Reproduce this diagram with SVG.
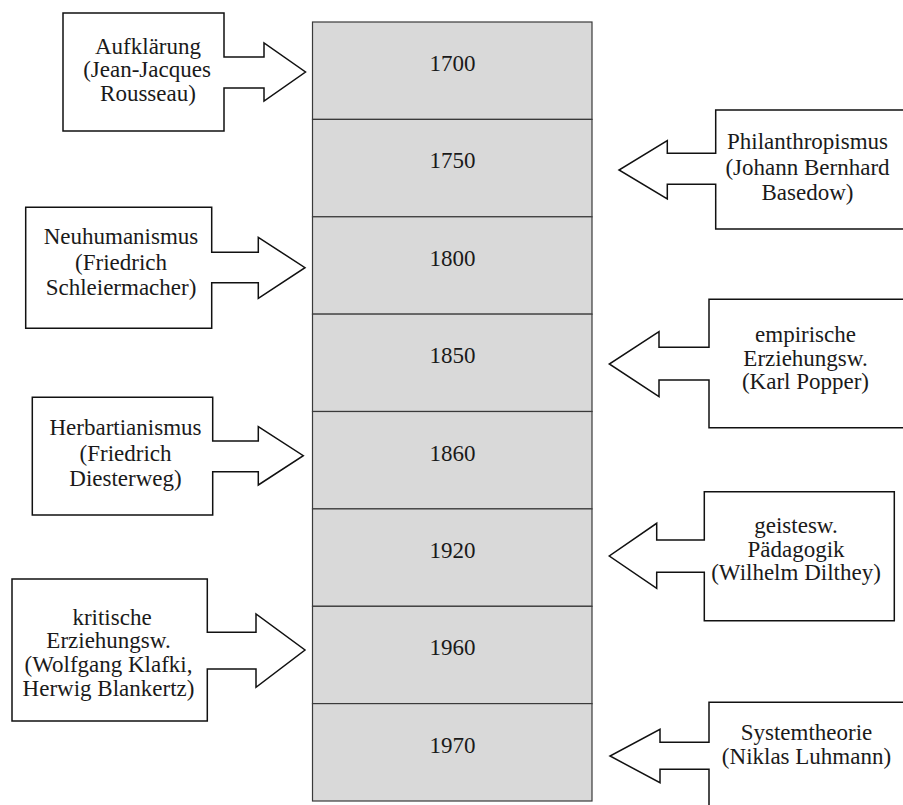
<svg xmlns="http://www.w3.org/2000/svg" width="903" height="805" viewBox="0 0 903 805">
<style>
.cell{fill:#d9d9d9;stroke:#3a3a3a;stroke-width:1.2}
.call{fill:#ffffff;stroke:#111111;stroke-width:1.5;stroke-linejoin:miter}
.t{font-family:"Liberation Serif","Times New Roman",serif;font-size:23px;fill:#1a1a1a;text-anchor:middle}
</style>
<rect width="903" height="805" fill="#ffffff"/>
<g id="timeline">
<g id="y1700"><rect class="cell" x="312.5" y="22" width="279.5" height="97.4"/><text class="t" x="452.5" y="71">1700</text></g>
<g id="y1750"><rect class="cell" x="312.5" y="119.4" width="279.5" height="97.4"/><text class="t" x="452.5" y="168.4">1750</text></g>
<g id="y1800"><rect class="cell" x="312.5" y="216.8" width="279.5" height="97.4"/><text class="t" x="452.5" y="265.8">1800</text></g>
<g id="y1850"><rect class="cell" x="312.5" y="314.1" width="279.5" height="97.4"/><text class="t" x="452.5" y="363.1">1850</text></g>
<g id="y1860"><rect class="cell" x="312.5" y="411.5" width="279.5" height="97.4"/><text class="t" x="452.5" y="460.5">1860</text></g>
<g id="y1920"><rect class="cell" x="312.5" y="508.9" width="279.5" height="97.4"/><text class="t" x="452.5" y="557.9">1920</text></g>
<g id="y1960"><rect class="cell" x="312.5" y="606.3" width="279.5" height="97.4"/><text class="t" x="452.5" y="655.3">1960</text></g>
<g id="y1970"><rect class="cell" x="312.5" y="703.6" width="279.5" height="97.4"/><text class="t" x="452.5" y="752.6">1970</text></g>
</g>
<g id="connectors"></g>
<g id="aufklaerung">
<path class="call" d="M63,13 H224 V57 H264 V43 L305.5,72 L264,101 V88 H224 V131 H63 Z"/>
<text class="t" x="148" y="53.5">Aufklärung</text>
<text class="t" x="147" y="77">(Jean-Jacques</text>
<text class="t" x="148" y="100.5">Rousseau)</text>
</g>
<g id="neuhumanismus">
<path class="call" d="M25.7,207.3 H211.7 V252.3 H258.3 V237.3 L305,267.7 L258.3,298.3 V282.7 H211.7 V328.3 H25.7 Z"/>
<text class="t" x="121" y="244">Neuhumanismus</text>
<text class="t" x="121" y="269.5">(Friedrich</text>
<text class="t" x="121" y="295">Schleiermacher)</text>
</g>
<g id="herbartianismus">
<path class="call" d="M32.3,397.3 H212.7 V441 H258.3 V426.7 L303.3,455.7 L258.3,485 V471.7 H212.7 V515 H32.3 Z"/>
<text class="t" x="125.5" y="435">Herbartianismus</text>
<text class="t" x="125.5" y="460.5">(Friedrich</text>
<text class="t" x="125.5" y="486">Diesterweg)</text>
</g>
<g id="kritische">
<path class="call" d="M12,579 H207.3 V632.3 H256 V614 L305,650 L256,687.3 V669 H207.3 V721 H12 Z"/>
<text class="t" x="112" y="624.5">kritische</text>
<text class="t" x="108.5" y="648.2">Erziehungsw.</text>
<text class="t" x="108.5" y="671.9">(Wolfgang Klafki,</text>
<text class="t" x="108.5" y="695.6">Herwig Blankertz)</text>
</g>
<g id="philanthropismus">
<path class="call" d="M715.7,110 H910 V229 H715.7 V184.3 H667.3 V199 L619,170 L667.3,140.7 V153.3 H715.7 Z"/>
<text class="t" x="807.5" y="149">Philanthropismus</text>
<text class="t" x="807.5" y="174.5">(Johann Bernhard</text>
<text class="t" x="807.5" y="200">Basedow)</text>
</g>
<g id="empirische">
<path class="call" d="M709,299.3 H910 V427.7 H709 V380 H659 V396.7 L609.3,364 L659,331.7 V347.3 H709 Z"/>
<text class="t" x="805.5" y="342.3">empirische</text>
<text class="t" x="805.5" y="365.8">Erziehungsw.</text>
<text class="t" x="805.5" y="389.3">(Karl Popper)</text>
</g>
<g id="geistesw">
<path class="call" d="M704.3,491.7 H894.3 V620.7 H704.3 V572.3 H656.7 V588.3 L609.3,556 L656.7,523.3 V540 H704.3 Z"/>
<text class="t" x="796" y="533">geistesw.</text>
<text class="t" x="796" y="556.5">Pädagogik</text>
<text class="t" x="796" y="580">(Wilhelm Dilthey)</text>
</g>
<g id="systemtheorie">
<path class="call" d="M709,702.3 H910 V812 H709 V769.3 H660 V782.7 L610,756 L660,729.3 V742.3 H709 Z"/>
<text class="t" x="806.5" y="740">Systemtheorie</text>
<text class="t" x="806.5" y="764">(Niklas Luhmann)</text>
</g>
</svg>
